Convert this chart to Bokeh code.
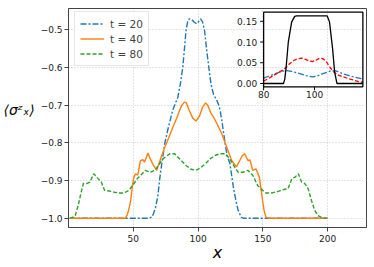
import numpy as np
from bokeh.plotting import figure
from bokeh.models import Range1d, FixedTicker, CustomJSTickFormatter, Legend, LegendItem
from bokeh.core.properties import value
from bokeh.embed import file_html
from bokeh.resources import INLINE

# ---------------- data ----------------
x_t20 = [1, 62, 64.5, 67, 69, 70.6, 72, 74.4, 77, 80.4, 82.5, 84.4, 86.5, 88.2, 89.5, 90.7, 92,
         93.2, 95, 97, 99, 100.5, 102, 103.5, 105, 106.5, 108.3, 110, 112, 114.6, 116, 117,
         118.3, 120.9, 122.5, 124.6, 127.2, 129, 130.9, 133.4, 135, 200]
y_t20 = [-1.0, -1.0, -0.997, -0.975, -0.94, -0.89, -0.855, -0.80, -0.76, -0.714, -0.695, -0.679,
         -0.64, -0.60, -0.55, -0.502, -0.478, -0.471, -0.472, -0.48, -0.484, -0.478, -0.471, -0.48,
         -0.502, -0.55, -0.60, -0.645, -0.672, -0.688, -0.70, -0.714, -0.74, -0.802, -0.835,
         -0.855, -0.917, -0.95, -0.979, -0.998, -1.0, -1.0]

x_t40 = [1, 44, 45.5, 47, 48, 49.5, 50.5, 51.7, 53.5, 55.5, 57.3, 58.8, 61.3, 63, 65.6, 68.1,
         70.6, 74.4, 77.5, 80.6, 83.5, 85.7, 87.5, 89.5, 91, 93.2, 96, 98.5, 101, 103.5, 105.8,
         107.5, 110, 112, 115, 118.3, 122.1, 125.9, 129.6, 132.2, 134, 136, 138.5, 140, 142.2,
         144.7, 147.3, 149.8, 151, 152.3, 154, 200]
y_t40 = [-1.0, -1.0, -0.99, -0.97, -0.953, -0.91, -0.891, -0.882, -0.886, -0.847, -0.845, -0.851,
         -0.827, -0.842, -0.86, -0.873, -0.847, -0.811, -0.785, -0.758, -0.735, -0.714, -0.70,
         -0.692, -0.694, -0.714, -0.735, -0.742, -0.730, -0.705, -0.694, -0.70, -0.722, -0.732,
         -0.752, -0.776, -0.811, -0.847, -0.864, -0.847, -0.835, -0.829, -0.847, -0.845, -0.873,
         -0.869, -0.891, -0.953, -0.98, -0.997, -1.0, -1.0]

x_t80 = [1, 3, 5.2, 7.8, 9.5, 11.5, 14, 16.5, 19.5, 21, 22.8, 25.3, 27.8, 31.6, 35.4, 39.1, 42.9,
         46.7, 50.5, 53, 56.8, 59.3, 63, 66.8, 69.3, 73.1, 78.1, 81.9, 87, 90.7, 94.5, 98.3, 102,
         105.8, 109.5, 113.3, 117, 120.9, 123.5, 125.9, 128.5, 130.9, 134.7, 138.5, 142.2, 146,
         149.8, 152.3, 157.3, 162.4, 166.1, 169.4, 172.4, 174.9, 177.4, 179.9, 182.4, 185, 187.5,
         190, 192.5, 196.3, 199]
y_t80 = [-1.0, -0.998, -0.993, -0.962, -0.935, -0.908, -0.908, -0.904, -0.882, -0.888, -0.895,
         -0.904, -0.926, -0.928, -0.931, -0.933, -0.933, -0.926, -0.908, -0.895, -0.882, -0.873,
         -0.878, -0.873, -0.86, -0.842, -0.829, -0.829, -0.847, -0.86, -0.87, -0.873, -0.866,
         -0.855, -0.842, -0.833, -0.829, -0.829, -0.838, -0.851, -0.866, -0.878, -0.878, -0.873,
         -0.886, -0.913, -0.926, -0.933, -0.933, -0.928, -0.924, -0.922, -0.895, -0.891, -0.882,
         -0.904, -0.908, -0.922, -0.953, -0.979, -0.993, -1.0, -1.0]

# inset series
xi_black = [80, 87.8, 88.3, 88.8, 89.7, 91, 92.2, 93, 105, 105.9, 107.1, 107.9, 108.8, 119]
yi_black = [0.0, 0.0, 0.01, 0.036, 0.10, 0.148, 0.162, 0.163, 0.163, 0.148, 0.084, 0.028, 0.0, 0.0]

xi_red = [80, 82, 84, 86, 87.8, 90.3, 92, 93.5, 95, 96.5, 98, 99.2, 100.5, 102, 103.2, 104.5,
          106.2, 107.5, 109.4, 113.2, 117.1, 119]
yi_red = [0.006, 0.012, 0.02, 0.027, 0.033, 0.048, 0.056, 0.06, 0.061, 0.058, 0.054, 0.053,
          0.056, 0.061, 0.06, 0.054, 0.038, 0.028, 0.02, 0.012, 0.005, 0.003]

xi_blue = [80, 83.9, 87, 89, 91, 92.9, 96.7, 99.2, 101, 103, 106.2, 108, 109.4, 111.5, 114.5,
           118.3, 119]
yi_blue = [0.013, 0.022, 0.029, 0.031, 0.029, 0.026, 0.019, 0.016, 0.018, 0.023, 0.03, 0.031,
           0.028, 0.023, 0.017, 0.012, 0.011]

x_ticks = [50, 100, 150, 200]
x_tick_labels = ["50", "100", "150", "200"]
y_ticks = [-1.0, -0.9, -0.8, -0.7, -0.6, -0.5]
y_tick_labels = ["\u22121.0", "\u22120.9", "\u22120.8", "\u22120.7", "\u22120.6", "\u22120.5"]
legend_labels = ["t = 20", "t = 40", "t = 80"]
x_label = "x"
y_label = "\u27e8\u03c3\u1dbb\u2093\u27e9"

inset_x_ticks = [80, 100]
inset_x_tick_labels = ["80", "100"]
inset_y_ticks = [0.0, 0.05, 0.10, 0.15]
inset_y_tick_labels = ["0.00", "0.05", "0.10", "0.15"]

# ---------------- figure ----------------
FONT = "DejaVu Sans"
DASHDOT = "6 2 2 2"
DASHED = "4 2"
p = figure(width=368, height=265, x_range=Range1d(0, 230), y_range=Range1d(-1.0247, -0.4435),
           output_backend="svg", toolbar_location=None,
           min_border_left=62, min_border_right=2, min_border_top=8, min_border_bottom=38)
p.background_fill_color = "white"
p.border_fill_color = "white"
p.outline_line_color = "#444444"
p.outline_line_width = 1

fmt_code = "const i = t.findIndex(v => Math.abs(v - tick) < 1e-9); return i >= 0 ? l[i] : '';"
p.xaxis.ticker = FixedTicker(ticks=x_ticks)
p.xaxis.formatter = CustomJSTickFormatter(args=dict(t=x_ticks, l=x_tick_labels), code=fmt_code)
p.yaxis.ticker = FixedTicker(ticks=y_ticks)
p.yaxis.formatter = CustomJSTickFormatter(args=dict(t=y_ticks, l=y_tick_labels), code=fmt_code)
for ax in (p.xaxis, p.yaxis):
    ax.major_label_text_font = FONT
    ax.major_label_text_font_size = "9px"
    ax.major_label_text_color = "#1a1a1a"
    ax.major_tick_in = 0
    ax.major_tick_out = 4
    ax.minor_tick_line_color = None
    ax.axis_line_color = "#444444"
    ax.major_tick_line_color = "#444444"
    ax.axis_label_text_font = FONT
    ax.axis_label_text_font_style = "italic"
    ax.axis_label_text_color = "black"
p.xaxis.major_label_standoff = 3
p.yaxis.major_label_standoff = 2

p.xaxis.axis_label = x_label
p.xaxis.axis_label_text_font_size = "16px"
p.xaxis.axis_label_standoff = -2

# second (empty) line lifts the label a little, as in the reference
p.yaxis.axis_label = y_label + "\n "
p.yaxis.axis_label_text_font_size = "14px"
p.yaxis.axis_label_text_line_height = 1.0
p.yaxis.axis_label_orientation = "horizontal"
p.yaxis.axis_label_standoff = 3

p.grid.grid_line_color = "#c8c8c8"
p.grid.grid_line_dash = "1 2"
p.grid.grid_line_width = 1

r20 = p.line(x_t20, y_t20, line_color="#1f77b4", line_width=1.4, line_dash=DASHDOT)
r40 = p.line(x_t40, y_t40, line_color="#ff7f0e", line_width=1.4)
r80 = p.line(x_t80, y_t80, line_color="#2ca02c", line_width=1.4, line_dash=DASHED)

legend = Legend(items=[LegendItem(label=legend_labels[0], renderers=[r20]),
                       LegendItem(label=legend_labels[1], renderers=[r40]),
                       LegendItem(label=legend_labels[2], renderers=[r80])],
                location=(6, 161), margin=0, padding=5, spacing=2,
                glyph_width=24, glyph_height=13, label_height=13, label_standoff=6,
                label_text_font=FONT, label_text_font_size="10.5px",
                border_line_color="#cccccc", border_line_width=1,
                background_fill_color="white", background_fill_alpha=0.8)
p.add_layout(legend)

# ---------------- inset ----------------
sub = p.subplot(x_source=Range1d(80, 119), y_source=Range1d(-0.008, 0.172),
                x_target=Range1d(150.6, 227.2), y_target=Range1d(-0.6513, -0.4533))
sub.line(xi_blue, yi_blue, line_color="#1f77b4", line_width=1.3, line_dash=DASHDOT)
sub.line(xi_red, yi_red, line_color="#ff0000", line_width=1.3, line_dash=DASHED)
sub.line(xi_black, yi_black, line_color="black", line_width=1.3)
sub.quad(left=[80], right=[119], bottom=[-0.008], top=[0.172], fill_color=None,
         line_color="black", line_width=1.3)
sub.ray(x=[80] * len(inset_y_ticks), y=inset_y_ticks, length=3.5, length_units="screen",
        angle=np.pi, line_color="black", line_width=1)
sub.ray(x=inset_x_ticks, y=[-0.008] * len(inset_x_ticks), length=3.5, length_units="screen",
        angle=-np.pi / 2, line_color="black", line_width=1)
sub.text(x=[80] * len(inset_y_ticks), y=inset_y_ticks, text=inset_y_tick_labels, x_offset=-6.5,
         text_align="right", text_baseline="middle", text_font=value(FONT),
         text_font_size="9px", text_color="#1a1a1a")
sub.text(x=inset_x_ticks, y=[-0.008] * len(inset_x_ticks), text=inset_x_tick_labels, y_offset=4.5,
         text_align="center", text_baseline="top", text_font=value(FONT),
         text_font_size="9px", text_color="#1a1a1a")

open("out.html", "w").write(file_html(p, INLINE))
